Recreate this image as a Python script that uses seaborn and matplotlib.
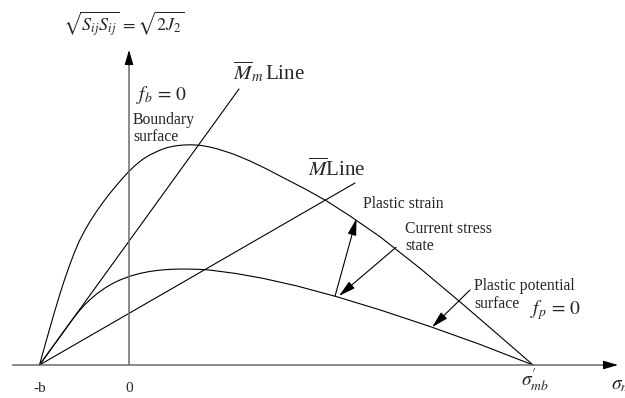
import numpy as np
import pandas as pd
import matplotlib
matplotlib.use("Agg")
import matplotlib.pyplot as plt
import seaborn as sns

# Stress-space schematic: mean effective stress p' against sqrt(2 J2)
b = 89.5           # tensile intercept (-b on the p' axis)
sigma_mb = 404.0   # boundary / potential surfaces close on the p' axis here

boundary_p = [-89.5, -84.6, -79.7, -74.7, -69.7, -64.7, -59.7, -54.7, -49.7, -44.7,
              -39.7, -33.0, -26.3, -19.7, -13.0, -6.4, 0.3, 7.0, 13.7, 20.3,
              27.0, 32.3, 37.7, 46.0, 54.3, 62.7, 71.0, 79.3, 87.7, 104.3,
              121.0, 137.7, 154.3, 176.0, 197.7, 221.0, 251.0, 291.8, 332.7, 368.3,
              404.0]
boundary_q = [0.0, 17.7, 35.0, 52.3, 69.0, 84.6, 99.0, 112.2, 124.0, 133.7,
              142.3, 152.8, 162.3, 171.0, 179.0, 186.8, 194.0, 200.3, 205.7, 209.8,
              213.0, 215.4, 217.3, 219.1, 220.0, 220.2, 219.7, 218.3, 216.3, 211.0,
              204.0, 196.0, 187.3, 176.1, 164.0, 149.0, 128.3, 96.1, 61.7, 31.0,
              0.0]

potential_p = [-89.5, -73.0, -59.0, -54.0, -49.0, -44.0, -39.0, -34.0, -29.0, -24.0,
               -19.0, -14.0, -9.0, -4.0, 1.0, 11.0, 21.0, 31.0, 41.0, 51.0,
               61.0, 71.0, 80.3, 107.0, 134.3, 167.7, 207.7, 251.0, 301.0, 351.0,
               404.0]
potential_q = [0.0, 22.8, 42.2, 48.9, 55.0, 60.5, 65.3, 69.7, 73.5, 77.0,
               80.0, 82.7, 85.0, 87.0, 88.8, 91.6, 93.6, 94.9, 95.65, 95.95,
               95.9, 95.6, 95.0, 91.5, 86.6, 79.1, 68.3, 55.1, 38.5, 20.6,
               0.0]

# Straight lines through (-b, 0)
mm_line_p = [-89.5, 110.0]
mm_line_q = [0.0, 276.0]
m_line_p = [-89.5, 226.0]
m_line_q = [0.0, 182.0]

tick_p = [-b, 0.0, sigma_mb]
tick_labels = ["-b", "0", r"$\sigma^{\prime}_{mb}$"]

sns.set_style("white")
plt.rcParams["font.family"] = ["Liberation Serif", "DejaVu Serif"]
plt.rcParams["mathtext.fontset"] = "stix"

fig = plt.figure(figsize=(6.25, 3.98), dpi=100)
ax = fig.add_axes([0, 0, 1, 1])
ax.set_xlim(-129, 496)
ax.set_ylim(-33, 365)
ax.axis("off")

curves = pd.concat([
    pd.DataFrame({"p": boundary_p, "q": boundary_q, "curve": "boundary"}),
    pd.DataFrame({"p": potential_p, "q": potential_q, "curve": "potential"}),
    pd.DataFrame({"p": mm_line_p, "q": mm_line_q, "curve": "Mm"}),
    pd.DataFrame({"p": m_line_p, "q": m_line_q, "curve": "M"}),
], ignore_index=True)

for name, grp in curves.groupby("curve", sort=False):
    sns.lineplot(data=grp, x="p", y="q", sort=False, estimator=None,
                 color="black", lw=0.8, ax=ax, legend=False)

# Coordinate axes
axis_grey = "#6b6b6b"
ax.plot([-117, 478], [0, 0], color=axis_grey, lw=1.1, solid_capstyle="butt")
ax.plot([0, 0], [0, 305], color=axis_grey, lw=1.1, solid_capstyle="butt")
head = dict(arrowstyle="-|>,head_length=0.75,head_width=0.22", color="black",
            lw=0.8, shrinkA=0, shrinkB=0, mutation_scale=12)
ax.annotate("", xy=(489, 0), xytext=(474, 0), arrowprops=head)
ax.annotate("", xy=(0, 315), xytext=(0, 300), arrowprops=head)


def on_curve(p, xs, ys):
    return float(np.interp(p, xs, ys))


arrow = dict(arrowstyle="-|>,head_length=0.85,head_width=0.22", color="black",
             lw=0.8, shrinkA=0, shrinkB=0, mutation_scale=12)

# Plastic strain: from the potential surface towards the boundary surface
ax.annotate("", xy=(227.5, on_curve(227.5, boundary_p, boundary_q) + 2),
            xytext=(206, on_curve(206, potential_p, potential_q)),
            arrowprops=arrow)
# Current stress state
ax.annotate("", xy=(210, on_curve(210, potential_p, potential_q) + 1.5),
            xytext=(267, on_curve(267, boundary_p, boundary_q) + 2),
            arrowprops=arrow)
# Plastic potential surface pointer
ax.annotate("", xy=(303, on_curve(303, potential_p, potential_q)),
            xytext=(341, 75), arrowprops=arrow)

# Labels on the p' axis
ax.text(tick_p[0], -23, tick_labels[0], ha="center", va="center", fontsize=11)
ax.text(tick_p[1], -23, tick_labels[1], ha="center", va="center", fontsize=11)
ax.text(tick_p[2] + 2, -15, tick_labels[2], ha="center", va="center", fontsize=14)
ax.text(482, -21, r"$\sigma_{m}$", ha="left", va="center", fontsize=14)

# Axis title and annotations
ax.text(-5, 341, r"$\sqrt{S_{ij}S_{ij}}\,=\sqrt{2J_{2}}$",
        ha="center", va="center", fontsize=13)
ax.text(33, 270, r"$f_{b}\,=\,0$", ha="center", va="center", fontsize=14)
ax.text(4, 245, "Boundary", ha="left", va="center", fontsize=11.3)
ax.text(4, 228, "surface", ha="left", va="center", fontsize=11.3)
ax.text(104, 293, r"$\overline{M}_{m}\,$Line", ha="left", va="center", fontsize=15)
ax.text(179, 195, r"$\overline{M}$Line", ha="left", va="center", fontsize=15)
ax.text(234, 161, "Plastic strain", ha="left", va="center", fontsize=11.3)
ax.text(276, 136, "Current stress", ha="left", va="center", fontsize=11.3)
ax.text(276, 119, "state", ha="left", va="center", fontsize=11.3)
ax.text(345, 79, "Plastic potential", ha="left", va="center", fontsize=11.3)
ax.text(345, 61, "surface", ha="left", va="center", fontsize=11.3)
ax.text(401, 55, r"$f_{p}\,=\,0$", ha="left", va="center", fontsize=14)

fig.savefig("out.png", dpi=100)
